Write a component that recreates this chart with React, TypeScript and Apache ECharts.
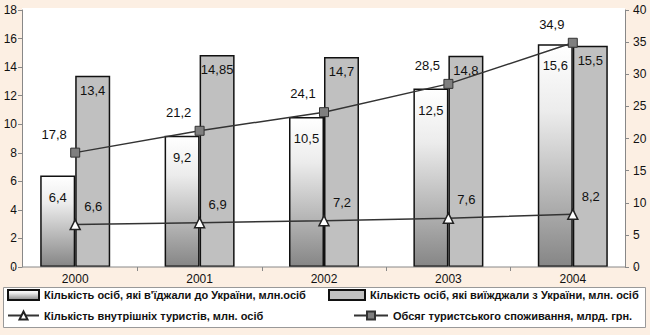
import React, { useEffect, useRef } from "react";
import * as echarts from "echarts";

// Years on the category axis
const years = ["2000", "2001", "2002", "2003", "2004"];
// Persons entering Ukraine, mln
const arrivals = [6.4, 9.2, 10.5, 12.5, 15.6];
// Persons leaving Ukraine, mln
const departures = [13.4, 14.85, 14.7, 14.8, 15.5];
// Domestic tourists, mln
const domestic = [6.6, 6.9, 7.2, 7.6, 8.2];
// Tourist consumption, bln UAH
const spending = [17.8, 21.2, 24.1, 28.5, 34.9];

const names = [
  "Кількість осіб, які в'їджали до України, млн.осіб",
  "Кількість осіб, які виїжджали з України, млн. осіб",
  "Кількість внутрішніх туристів, млн. осіб",
  "Обсяг туристського споживання, млрд. грн.",
];

const FONT = "Arial, 'Liberation Sans', sans-serif";
const comma = (p: any) => String(p.value).replace(".", ",");

export default function App() {
  const ref = useRef<HTMLDivElement>(null);

  useEffect(() => {
    document.body.style.margin = "0";
    const chart = echarts.init(ref.current!, null, { renderer: "svg" });

    const labelText = { fontFamily: FONT, fontSize: 13, color: "#111" };

    chart.setOption({
      animation: false,
      backgroundColor: "#fcefe3",
      textStyle: { fontFamily: FONT },
      grid: { left: 13, right: 15, top: 10, bottom: 68 },
      graphic: [
        {
          type: "rect",
          z: -10,
          shape: { x: 22, y: 8, width: 603, height: 259 },
          style: { fill: "#ffffff" },
        },
        {
          type: "line",
          z: 5,
          shape: { x1: 22, y1: 267, x2: 625, y2: 267 },
          style: { stroke: "#888", lineWidth: 1 },
        },
        {
          type: "rect",
          z: -10,
          shape: { x: 3.5, y: 287.5, width: 642, height: 40 },
          style: { fill: "#ffffff", stroke: "#999", lineWidth: 1 },
        },
      ],
      legend: [
        { data: [names[0]], left: 7, top: 289, icon: "rect", itemWidth: 31, itemHeight: 10 },
        { data: [names[1]], left: 328, top: 289, icon: "rect", itemWidth: 36, itemHeight: 10 },
        { data: [names[2]], left: 7, top: 310, itemWidth: 31, itemHeight: 10 },
        { data: [names[3]], left: 353, top: 310, itemWidth: 34, itemHeight: 10 },
      ].map((l) => ({
        ...l,
        padding: 0,
        selectedMode: false,
        textStyle: { fontFamily: FONT, fontSize: 11, fontWeight: "bold", color: "#111" },
      })),
      xAxis: {
        type: "category",
        data: years,
        axisLine: { show: true, lineStyle: { color: "rgba(0,0,0,0)" } },
        axisTick: {
          show: true,
          length: 4,
          interval: 0,
          lineStyle: { color: "#888" },
        },
        axisLabel: { fontFamily: FONT, fontSize: 12, color: "#111", margin: 6 },
      },
      yAxis: [
        {
          type: "value",
          min: 0,
          max: 18,
          interval: 2,
          offset: -9,
          axisLine: { show: true, lineStyle: { color: "#888" } },
          axisTick: { show: true, length: 4, lineStyle: { color: "#888" } },
          splitLine: { show: false },
          axisLabel: { fontFamily: FONT, fontSize: 12, color: "#111", margin: 5 },
        },
        {
          type: "value",
          min: 0,
          max: 40,
          interval: 5,
          position: "right",
          offset: -10,
          axisLine: { show: true, lineStyle: { color: "#888" } },
          axisTick: { show: true, length: 4, lineStyle: { color: "#888" } },
          splitLine: { show: false },
          axisLabel: { fontFamily: FONT, fontSize: 12, color: "#111", margin: 8 },
        },
      ],
      series: [
        {
          name: names[0],
          type: "bar",
          data: arrivals,
          barWidth: 35,
          barGap: "0%",
          itemStyle: {
            color: new echarts.graphic.LinearGradient(0, 0, 0, 1, [
              { offset: 0, color: "#ffffff" },
              { offset: 0.3, color: "#ececec" },
              { offset: 1, color: "#868686" },
            ]),
            borderColor: "#111",
            borderWidth: 1.5,
          },
          label: {
            show: true,
            position: "insideTop",
            distance: 15,
            formatter: comma,
            ...labelText,
          },
        },
        {
          name: names[1],
          type: "bar",
          data: departures,
          barWidth: 35,
          itemStyle: { color: "#c0c0c0", borderColor: "#111", borderWidth: 1.5 },
          label: {
            show: true,
            position: "insideTop",
            distance: 8,
            formatter: comma,
            ...labelText,
          },
        },
        {
          name: names[2],
          type: "line",
          yAxisIndex: 1,
          data: domestic,
          z: 5,
          symbol: "triangle",
          symbolSize: 10,
          lineStyle: { color: "#333", width: 1.5 },
          itemStyle: { color: "#ffffff", borderColor: "#222", borderWidth: 1.5 },
          label: {
            show: true,
            position: "top",
            offset: [18, -1],
            formatter: comma,
            ...labelText,
          },
        },
        {
          name: names[3],
          type: "line",
          yAxisIndex: 1,
          data: spending,
          z: 6,
          symbol: "rect",
          symbolSize: 9,
          lineStyle: { color: "#333", width: 1.5 },
          itemStyle: { color: "#7f7f7f", borderColor: "#333", borderWidth: 1 },
          label: {
            show: true,
            position: "top",
            offset: [-21, -2],
            formatter: comma,
            ...labelText,
          },
        },
      ],
    });

    return () => chart.dispose();
  }, []);

  return (
    <div
      ref={ref}
      style={{ position: "fixed", left: 0, top: 0, width: 650, height: 335 }}
    />
  );
}
